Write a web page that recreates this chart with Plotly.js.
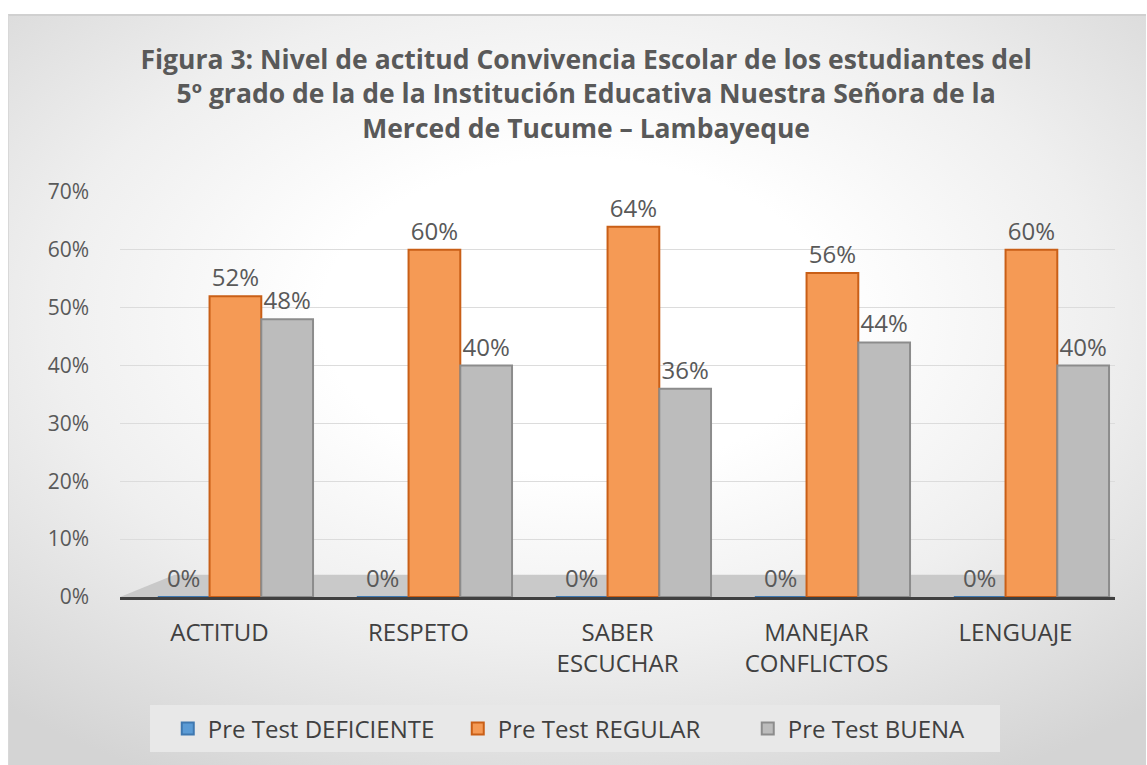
<!DOCTYPE html>
<html>
<head>
<meta charset="utf-8">
<script src="https://cdn.plot.ly/plotly-3.0.1.min.js"></script>
<style>
  html, body { margin: 0; padding: 0; width: 1147px; height: 765px; overflow: hidden; background: #ffffff; }
  #bg { position: absolute; left: 8px; top: 14px; width: 1137px; height: 751px;
        background: radial-gradient(ellipse 75% 70% at 50% 40%, #ffffff 30%, #efefef 62%, #d4d4d4 100%);
        border-top: 2px solid #d0d0d0; border-left: 1px solid #d8d8d8; }
  #legbg { position: absolute; left: 150px; top: 705px; width: 850px; height: 47px; background: #e8e8e8; }
  #chart { position: absolute; left: 0; top: 0; width: 1147px; height: 765px; }
</style>
</head>
<body>
<div id="bg"></div>
<div id="legbg"></div>
<div id="chart"></div>
<script>
const categories = ["ACTITUD", "RESPETO", "SABER<br>ESCUCHAR", "MANEJAR<br>CONFLICTOS", "LENGUAJE"];
const seriesNames = ["Pre Test DEFICIENTE", "Pre Test REGULAR", "Pre Test BUENA"];
const deficiente = [0.00, 0.00, 0.00, 0.00, 0.00];
const regular = [0.52, 0.60, 0.64, 0.56, 0.60];
const buena = [0.48, 0.40, 0.36, 0.44, 0.40];
const yTickVals = [0, 0.1, 0.2, 0.3, 0.4, 0.5, 0.6, 0.7];

const tickFont = {family: "Open Sans, sans-serif", size: 21, color: "#595959"};
const catFont = {family: "Open Sans, sans-serif", size: 24, color: "#404040"};
const dataFont = {family: "Open Sans, sans-serif", size: 24, color: "#595959"};
const legFont = {family: "Open Sans, sans-serif", size: 24, color: "#404040"};

function mk(name, vals, fill, edge, offset) {
  return {
    type: "bar", name: name, x: categories, y: vals,
    width: 0.26, offset: offset,
    marker: {color: fill, line: {color: edge, width: 2}},
    text: vals.map(v => Math.round(v * 100) + "%"),
    textposition: "outside", cliponaxis: false,
    textfont: dataFont,
    hoverinfo: "x+y+name"
  };
}

const data = [
  mk(seriesNames[0], deficiente, "#5b9bd5", "#3f78b0", -0.31),
  mk(seriesNames[1], regular, "#f59a55", "#c95f17", -0.05),
  mk(seriesNames[2], buena, "#bcbcbc", "#8c8c8c", 0.21)
];

const layout = {
  width: 1147, height: 765,
  paper_bgcolor: "rgba(0,0,0,0)", plot_bgcolor: "rgba(0,0,0,0)",
  margin: {l: 120, r: 32, t: 192, b: 168},
  title: {
    text: "<b>Figura 3: Nivel de actitud Convivencia Escolar de los estudiantes del<br>5º grado de la de la Institución Educativa Nuestra Señora de la<br>Merced de Tucume – Lambayeque</b>",
    font: {family: "Open Sans, sans-serif", size: 26.5, color: "#595959"},
    x: 0.511, xanchor: "center", yref: "container", y: 0.91, yanchor: "top"
  },
  barmode: "group",
  xaxis: {
    type: "category", showgrid: false, zeroline: false,
    showline: true, linecolor: "#404040", linewidth: 3,
    ticks: "", tickfont: catFont, ticklabelstandoff: 12
  },
  yaxis: {
    range: [0, 0.7], tickvals: yTickVals, tickformat: ".0%",
    showgrid: true, gridcolor: "#dcdcdc", gridwidth: 1,
    zeroline: false, showline: false, ticks: "",
    tickfont: tickFont, ticklabelstandoff: 30
  },
  shapes: [{
    type: "path", xref: "paper", yref: "paper", layer: "below",
    path: "M 0,0 L 0.055,0.055 L 0.93,0.055 L 1,0 Z",
    fillcolor: "#c9c9c9", line: {width: 0}
  }],
  legend: {
    orientation: "h", x: 0.048, xanchor: "left", y: -0.27, yanchor: "top",
    bgcolor: "rgba(0,0,0,0)", borderwidth: 0, entrywidth: 245,
    font: legFont, itemwidth: 30, traceorder: "normal"
  },
  showlegend: true
};

Plotly.newPlot("chart", data, layout, {displayModeBar: false, staticPlot: true});
</script>
</body>
</html>
